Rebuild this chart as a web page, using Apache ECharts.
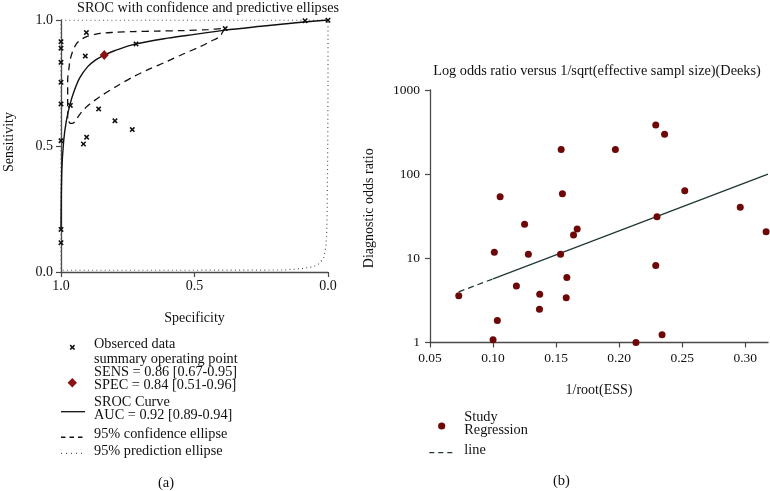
<!DOCTYPE html>
<html><head><meta charset="utf-8">
<script src="https://cdn.jsdelivr.net/npm/echarts@6/dist/echarts.min.js"></script>
<style>html,body{margin:0;padding:0;background:#fff}#c{width:770px;height:491px}</style>
</head><body><div id="c"></div>
<script>
// ---------- Panel (a): SROC (values are [specificity, sensitivity]) ----------
const observedData = [
  [1.0, 0.914], [1.0, 0.888], [1.0, 0.832], [1.0, 0.753], [1.0, 0.667],
  [1.0, 0.521], [1.0, 0.169], [1.0, 0.116],
  [0.905, 0.950], [0.909, 0.857], [0.965, 0.661], [0.859, 0.647],
  [0.798, 0.600], [0.733, 0.565], [0.904, 0.535], [0.916, 0.508],
  [0.719, 0.905], [0.385, 0.966], [0.086, 0.997], [0.0, 0.999]
];
const summaryPoint = [[0.838, 0.861]];
const srocCurve = [
  [1.0, 0.17], [0.997, 0.40], [0.99, 0.52], [0.98, 0.60], [0.965, 0.67],
  [0.95, 0.72], [0.93, 0.77], [0.90, 0.815], [0.87, 0.842], [0.838, 0.861],
  [0.80, 0.878], [0.72, 0.905], [0.60, 0.928], [0.50, 0.943], [0.385, 0.960],
  [0.25, 0.975], [0.10, 0.991], [0.0, 1.0]
];
const confidenceEllipse = [
  [0.975, 0.61], [0.975, 0.70], [0.975, 0.762], [0.970, 0.81], [0.966, 0.841],
  [0.955, 0.880], [0.941, 0.907], [0.925, 0.922], [0.904, 0.934], [0.854, 0.947],
  [0.80, 0.951], [0.730, 0.954], [0.640, 0.956], [0.543, 0.958], [0.45, 0.962],
  [0.385, 0.967], [0.395, 0.952], [0.405, 0.934], [0.44, 0.915], [0.479, 0.894],
  [0.54, 0.866], [0.604, 0.835], [0.67, 0.805], [0.729, 0.775], [0.79, 0.738],
  [0.854, 0.696], [0.890, 0.668], [0.916, 0.643], [0.935, 0.618], [0.948, 0.596],
  [0.957, 0.590], [0.964, 0.590], [0.970, 0.596], [0.975, 0.61]
];
const predictionEllipse = [
  [1.0, 0.999], [0.5, 0.999], [0.0, 0.999], [0.0, 0.75], [0.001, 0.50],
  [0.003, 0.25], [0.005, 0.15], [0.008, 0.10], [0.017, 0.054], [0.035, 0.032],
  [0.055, 0.021], [0.10, 0.013], [0.17, 0.008], [0.5, 0.007], [1.0, 0.007],
  [1.0, 0.999]
];
const ticksA = [0, 0.5, 1];

// ---------- Panel (b): Deeks' funnel plot ----------
const studyInvRootESS = [
  0.229, 0.236, 0.154, 0.197, 0.1056, 0.155, 0.252, 0.296, 0.230, 0.125,
  0.3165, 0.1667, 0.1638, 0.101, 0.128, 0.1535, 0.229, 0.1585, 0.1185, 0.137,
  0.0728, 0.158, 0.1368, 0.1034, 0.100, 0.2133, 0.234
];
const studyDOR = [
  384, 298, 197, 197, 54, 58.6, 63.6, 40.4, 31.3, 25.4,
  20.7, 22.3, 18.9, 11.8, 11.2, 11.2, 8.2, 5.9, 4.7, 3.74,
  3.6, 3.4, 2.48, 1.82, 1.08, 1.0, 1.24
];
const regressionDashed = [[0.0728, 4.0], [0.100, 5.7]];
const regressionSolid = [[0.100, 5.7], [0.318, 100]];
const ticksBx = [0.05, 0.10, 0.15, 0.20, 0.25, 0.30];
const ticksBy = [1, 10, 100, 1000];

const FONT = 'Liberation Serif';
const AX = '#4a4a4a';
const DARKRED = '#6e0808';
const LINEC = '#1f3634';
const xMarkPts = [[0,2],[2,0],[5,3],[8,0],[10,2],[7,5],[10,8],[8,10],[5,7],[2,10],[0,8],[3,5]];
const xMark = 'path://M' + xMarkPts.map(p => p.join(',')).join('L') + 'Z';

const chart = echarts.init(document.getElementById('c'), null, {renderer: 'canvas'});

function axisCommon(extra) {
  return Object.assign({
    axisLine: {show: true, onZero: false, lineStyle: {color: AX, width: 1.3}},
    axisTick: {show: true, length: 5, lineStyle: {color: AX, width: 1.2}},
    splitLine: {show: false},
    axisLabel: {color: '#111', fontFamily: FONT, fontSize: 14, margin: 6},
    nameTextStyle: {color: '#111', fontFamily: FONT, fontSize: 14}
  }, extra);
}

const studyPoints = studyInvRootESS.map((x, i) => [x, studyDOR[i]]);

const option = {
  animation: false,
  backgroundColor: '#fff',
  textStyle: {fontFamily: FONT},
  title: [
    {text: 'SROC with confidence and predictive ellipses', left: 203, top: -4, textAlign: 'center',
     textStyle: {fontFamily: FONT, fontSize: 14.2, fontWeight: 'normal', color: '#111'}},
    {text: 'Log odds ratio versus 1/sqrt(effective sampl size)(Deeks)', left: 592, top: 59, textAlign: 'center',
     textStyle: {fontFamily: FONT, fontSize: 14.3, fontWeight: 'normal', color: '#111'}}
  ],
  grid: [
    {left: 61, top: 20, width: 267, height: 252, containLabel: false},
    {left: 430, top: 90, width: 338, height: 252.5, containLabel: false}
  ],
  xAxis: [
    axisCommon({gridIndex: 0, type: 'value', min: 0, max: 1, interval: 0.5, inverse: true, position: 'bottom',
      name: 'Specificity', nameLocation: 'middle', nameGap: 39,
      axisLabel: {color: '#111', fontFamily: FONT, fontSize: 14, margin: 7,
        formatter: v => ticksA.includes(v) ? v.toFixed(1) : ''}}),
    axisCommon({gridIndex: 1, type: 'value', min: 0.05, max: 0.318, interval: 0.05, position: 'bottom',
      name: '1/root(ESS)', nameLocation: 'middle', nameGap: 41,
      axisLabel: {color: '#111', fontFamily: FONT, fontSize: 13.5, margin: 9, showMaxLabel: false,
        formatter: v => { const t = ticksBx.find(u => Math.abs(u - v) < 1e-6); return t !== undefined ? t.toFixed(2) : ''; }}})
  ],
  yAxis: [
    axisCommon({gridIndex: 0, type: 'value', min: 0, max: 1, interval: 0.5, position: 'left',
      name: 'Sensitivity', nameLocation: 'middle', nameGap: 45,
      nameTextStyle: {color: '#111', fontFamily: FONT, fontSize: 14, padding: [0, 0, 0, 8]},
      axisLabel: {color: '#111', fontFamily: FONT, fontSize: 14, margin: 8,
        formatter: v => ticksA.includes(v) ? v.toFixed(1) : ''}}),
    axisCommon({gridIndex: 1, type: 'log', logBase: 10, min: 1, max: 1000, position: 'left',
      name: 'Diagnostic odds ratio', nameLocation: 'middle', nameGap: 54,
      nameTextStyle: {color: '#111', fontFamily: FONT, fontSize: 14, padding: [0, 0, 0, 16]},
      axisLabel: {color: '#111', fontFamily: FONT, fontSize: 13.5, margin: 10,
        formatter: v => { const t = ticksBy.find(u => Math.abs(u - v) < 1e-6 * u); return t !== undefined ? String(t) : ''; }},
      minorTick: {show: false}})
  ],
  series: [
    {name: '95% prediction ellipse', type: 'line', xAxisIndex: 0, yAxisIndex: 0, data: predictionEllipse,
     showSymbol: false, clip: false, z: 2,
     lineStyle: {color: '#555', width: 1.2, type: [1, 3.2]}},
    {name: '95% confidence ellipse', type: 'line', xAxisIndex: 0, yAxisIndex: 0, data: confidenceEllipse,
     showSymbol: false, smooth: 0.3, clip: false, z: 3,
     lineStyle: {color: '#111', width: 1.3, type: [7, 5]}},
    {name: 'SROC Curve', type: 'line', xAxisIndex: 0, yAxisIndex: 0, data: srocCurve,
     showSymbol: false, smooth: 0.3, clip: false, z: 4,
     lineStyle: {color: '#111', width: 1.4}},
    {name: 'Obserced data', type: 'scatter', xAxisIndex: 0, yAxisIndex: 0, data: observedData,
     symbol: xMark, symbolSize: 5.5, clip: false, z: 5, itemStyle: {color: '#111', opacity: 1}},
    {name: 'summary operating point', type: 'scatter', xAxisIndex: 0, yAxisIndex: 0, data: summaryPoint,
     symbol: 'diamond', symbolSize: [9, 10], clip: false, z: 6, itemStyle: {color: '#8a1414', opacity: 1}},

    {name: 'Regression line dashed', type: 'line', xAxisIndex: 1, yAxisIndex: 1, data: regressionDashed,
     showSymbol: false, z: 3, lineStyle: {color: LINEC, width: 1.3, type: [6, 4]}},
    {name: 'Regression line', type: 'line', xAxisIndex: 1, yAxisIndex: 1, data: regressionSolid,
     showSymbol: false, z: 3, lineStyle: {color: LINEC, width: 1.3}},
    {name: 'Study', type: 'scatter', xAxisIndex: 1, yAxisIndex: 1, data: studyPoints,
     symbol: 'circle', symbolSize: 7, clip: false, z: 5, itemStyle: {color: DARKRED, opacity: 1}}
  ],
  graphic: []
};

// ---------- legends (drawn as graphic text & symbols) ----------
const tStyle = (txt, x, y) => ({type: 'text', left: x, top: y - 8.5,
  style: {text: txt, fill: '#111', font: '14.3px "Liberation Serif"'}});
const g = option.graphic;
// panel (a)
g.push({type: 'polygon', shape: {points: xMarkPts.map(p => [69.6 + p[0] * 0.55, 344.6 + p[1] * 0.55])},
        style: {fill: '#111'}});
g.push(tStyle('Obserced data', 94, 346));
g.push(tStyle('summary operating point', 94, 360.5));
g.push(tStyle('SENS = 0.86 [0.67-0.95]', 94, 373.5));
g.push(tStyle('SPEC = 0.84 [0.51-0.96]', 94, 386.5));
g.push({type: 'polygon', shape: {points: [[72.3, 378], [77, 382.7], [72.3, 387.4], [67.6, 382.7]]}, style: {fill: '#8a1414'}});
g.push(tStyle('SROC Curve', 94, 403.5));
g.push(tStyle('AUC = 0.92 [0.89-0.94]', 94, 417));
g.push({type: 'line', shape: {x1: 61, y1: 411.7, x2: 85, y2: 411.7}, style: {stroke: '#111', lineWidth: 1.3}});
g.push(tStyle('95% confidence ellipse', 94, 435.5));
g.push({type: 'line', shape: {x1: 61, y1: 437.3, x2: 85, y2: 437.3}, style: {stroke: '#111', lineWidth: 1.5, lineDash: [4.5, 4]}});
g.push(tStyle('95% prediction ellipse', 94, 452.5));
g.push({type: 'line', shape: {x1: 61, y1: 453.3, x2: 85, y2: 453.3}, style: {stroke: '#555', lineWidth: 1.2, lineDash: [1, 4]}});
g.push({type: 'text', left: 158, top: 476, style: {text: '(a)', fill: '#111', font: '14.5px "Liberation Serif"'}});
// panel (b)
g.push({type: 'circle', shape: {cx: 441.7, cy: 426, r: 3.6}, style: {fill: DARKRED}});
g.push(tStyle('Study', 464.3, 418.3));
g.push(tStyle('Regression', 464.3, 431.7));
g.push({type: 'line', shape: {x1: 429.3, y1: 452.7, x2: 454, y2: 452.7}, style: {stroke: LINEC, lineWidth: 1.3, lineDash: [5, 4]}});
g.push(tStyle('line', 464.3, 451.7));
g.push({type: 'text', left: 553, top: 474, style: {text: '(b)', fill: '#111', font: '14.5px "Liberation Serif"'}});

chart.setOption(option);
</script>
</body></html>
